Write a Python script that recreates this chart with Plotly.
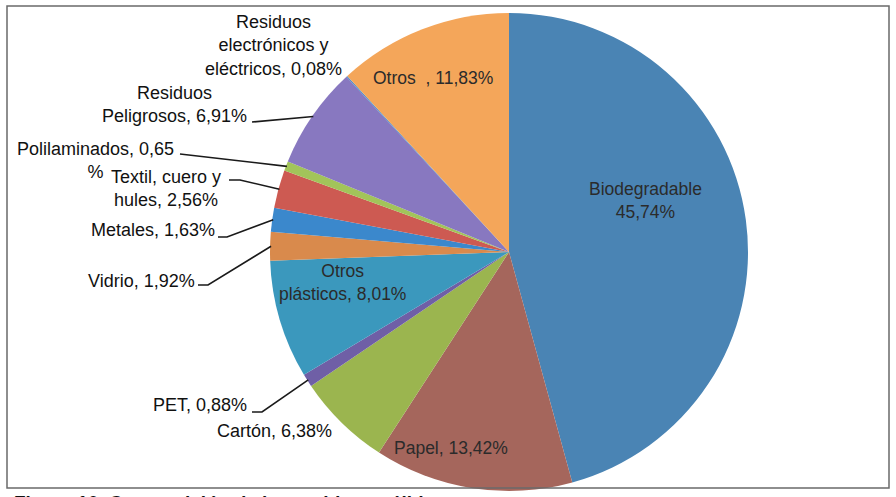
import math
import plotly.graph_objects as go

# ---- data ----
categories = ["Biodegradable", "Papel", "Cartón", "PET", "Otros plásticos", "Vidrio",
              "Metales", "Textil, cuero y hules", "Polilaminados", "Residuos Peligrosos",
              "Residuos electrónicos y eléctricos", "Otros"]
values = [45.74, 13.42, 6.38, 0.88, 8.01, 1.92, 1.63, 2.56, 0.65, 6.91, 0.08, 11.83]
label_texts = ["Biodegradable<br>45,74%", "Papel, 13,42%", "Cartón, 6,38%", "PET, 0,88%",
               "Otros<br>plásticos, 8,01%", "Vidrio, 1,92%", "Metales, 1,63%",
               "Textil, cuero y<br>hules, 2,56%", "Polilaminados, 0,65<br>%",
               "Residuos<br>Peligrosos, 6,91%", "Residuos<br>electrónicos y<br>eléctricos, 0,08%",
               "Otros  , 11,83%"]
colors = ["#4a84b4", "#a5665c", "#9bb54f", "#6f5fa6", "#3b98bd", "#d98a4c",
          "#3b88cc", "#cd5a52", "#a2c45a", "#8878c0", "#4a8cc8", "#f4a65a"]

W, H = 896, 497
CX, CY, R = 509, 252, 239

def px(x):
    return x / W

def py(y):
    return 1 - y / H

fig = go.Figure(go.Pie(
    labels=categories, values=values, sort=False, direction="clockwise", rotation=0,
    marker=dict(colors=colors, line=dict(width=0)),
    textinfo="none", hoverinfo="label+percent", showlegend=False,
    domain=dict(x=[px(CX - R), px(CX + R)], y=[py(CY + R), py(CY - R)]),
))

# label layout: (center x, center y, inside?, leader start, elbow length)
label_layout = {
    "Biodegradable": (645, 200, True, None, 0),
    "Papel": (451, 448, True, None, 0),
    "Cartón": (274, 431, False, None, 0),
    "PET": (200, 405, False, (252, 412), 10),
    "Otros plásticos": (342, 282, True, None, 0),
    "Vidrio": (141, 281, False, (198, 285), 10),
    "Metales": (153, 230, False, (218, 237), 9),
    "Textil, cuero y hules": (166, 188, False, (229, 180), 11),
    "Polilaminados": (95, 160, False, (180, 154), 0),
    "Residuos Peligrosos": (174, 104, False, (252, 122), 0),
    "Residuos electrónicos y eléctricos": (273, 46, False, None, 0),
    "Otros": (433, 78, True, None, 0),
}

total = sum(values)
cum = 0.0
annotations = []
shapes = []
for cat, val, txt in zip(categories, values, label_texts):
    mid = (cum + val / 2) / total * 2 * math.pi
    cum += val
    lx, ly, inside, start, elbow = label_layout[cat]
    annotations.append(dict(
        x=px(lx), y=py(ly), xref="paper", yref="paper", text=txt, showarrow=False,
        xanchor="center", yanchor="middle", align="center",
        font=dict(family="Liberation Sans, Arial, sans-serif",
                  size=17.5 if inside else 18, color="#2b2b2b" if inside else "#111111"),
    ))
    if start is not None:
        ex = CX + (R - 1) * math.sin(mid)
        ey = CY - (R - 1) * math.cos(mid)
        sx, sy = start
        path = f"M {px(sx)},{py(sy)} L {px(sx + elbow)},{py(sy)} L {px(ex)},{py(ey)}"
        shapes.append(dict(type="path", xref="paper", yref="paper", path=path,
                           line=dict(color="#1a1a1a", width=1.6)))

# frame
shapes.append(dict(type="rect", xref="paper", yref="paper",
                   x0=px(7), x1=px(889), y0=py(488), y1=py(6),
                   line=dict(color="#6a6a6a", width=1.5)))

# caption (cut off at bottom of image, as in the reference)
annotations.append(dict(
    x=px(12), y=py(490), xref="paper", yref="paper", xanchor="left", yanchor="top",
    text="<b>Figura 10. Composición de los residuos sólidos</b>", showarrow=False,
    font=dict(family="Liberation Sans, Arial, sans-serif", size=19, color="#111111"),
))

fig.update_layout(
    width=W, height=H, margin=dict(l=0, r=0, t=0, b=0),
    paper_bgcolor="white", plot_bgcolor="white",
    annotations=annotations, shapes=shapes,
)

fig.write_html("out.html", config={"displayModeBar": False},
               post_script="document.body.style.margin='0';document.body.style.overflow='hidden';")
